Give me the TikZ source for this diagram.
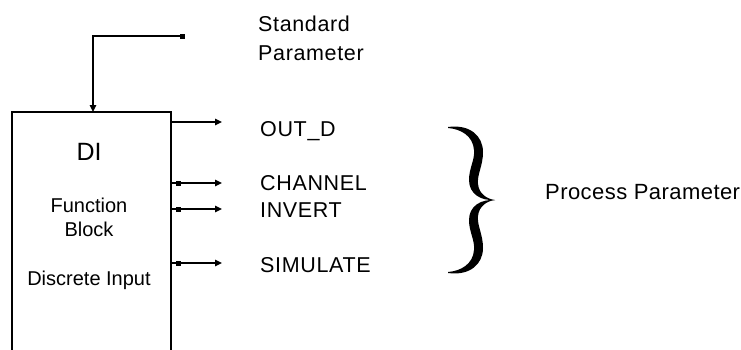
\documentclass[tikz,border=0pt]{standalone}
\usepackage{fontspec}
\setmainfont{Liberation Sans}
\usetikzlibrary{arrows.meta}
\tikzset{
  wire/.style={line width=1.5pt},
  sig/.style={wire,-{Triangle[length=7pt,width=6.5pt]}},
  lbl/.style={anchor=base west,inner sep=0pt,font=\fontsize{21.5}{29}\selectfont\addfontfeatures{LetterSpace=3}},
  btxt/.style={inner sep=0pt,align=center,font=\fontsize{20}{24}\selectfont},
  sq/.style={fill,minimum size=5pt,inner sep=0pt}
}
\begin{document}
\begin{tikzpicture}[x=1pt,y=-1pt]
  \clip (0,0) rectangle (741,349);
  % function block, open at the bottom edge
  \node[draw,wire,outer sep=0pt,minimum width=159pt,minimum height=260pt,anchor=north west] (di) at (12,112) {};
  \node[btxt,font=\fontsize{25}{30}\selectfont] (dit) at (89,152) {DI};
  \node[btxt] (fb) at (89,217.5) {Function\\Block};
  \node[btxt,anchor=base] (dis) at (89,285) {Discrete Input};
  % standard parameter
  \coordinate (sp) at (185,36);
  \draw[wire,{Square[length=5pt,width=5pt]}-{Triangle[length=7pt,width=6.5pt]}] (sp) -| ([xshift=1.5pt]di.north);
  \node[lbl,anchor=west,align=left] (std) at (258,38) {Standard\\Parameter};
  % process parameters
  \coordinate (outd) at (222,122);
  \coordinate (chan) at (222,183);
  \coordinate (inv) at (222,209);
  \coordinate (sim) at (222,263);
  \draw[sig] (di.east |- outd) -- (outd);
  \draw[sig] (di.east |- chan) -- (chan) node[sq,pos=0.14] {};
  \draw[sig] (di.east |- inv) -- (inv) node[sq,pos=0.14] {};
  \draw[sig] (di.east |- sim) -- (sim) node[sq,pos=0.14] {};
  \node[lbl] (outdl) at (260,136) {OUT\_D};
  \node[lbl] (chanl) at (260,190) {CHANNEL};
  \node[lbl] (invl) at (260,217) {INVERT};
  \node[lbl] (siml) at (260,272) {SIMULATE};
  % brace
  \foreach \s in {1,-1}
    \fill[shift={(495,200)},yscale=\s] (-47,-73) .. controls (-25,-76) and (-12,-64) .. (-12,-48)
      .. controls (-12,-34) and (-18,-26) .. (-17,-16) .. controls (-16,-6) and (-8,-1) .. (0,0)
      .. controls (-14,1) and (-26,-6) .. (-26,-20) .. controls (-26,-32) and (-20,-40) .. (-21,-50)
      .. controls (-22,-64) and (-34,-71) .. (-47,-72) -- cycle;
  \node[lbl,font=\fontsize{22}{26}\selectfont\addfontfeatures{LetterSpace=2}] (proc) at (545,199) {Process Parameter};
\end{tikzpicture}
\end{document}
